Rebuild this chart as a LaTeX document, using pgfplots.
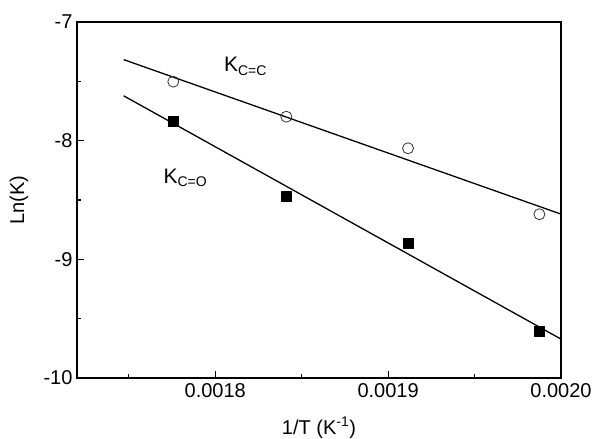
\documentclass[border=0pt]{standalone}
\usepackage{pgfplots}
\pgfplotsset{compat=1.18}
\usepackage{fontspec}
\setmainfont{Liberation Sans}

\begin{document}
\begin{tikzpicture}
\begin{axis}[
  scale only axis, width=484pt, height=356pt,
  xmin=0.00172, xmax=0.0020, ymin=-10, ymax=-7,
  scaled x ticks=false,
  axis line style={line width=1.6pt},
  xtick={0.0018,0.0019,0.0020}, xticklabels={0.0018,0.0019,0.0020},
  minor xtick={0.00175,0.00185,0.00195},
  ytick={-10,-9,-8,-7}, yticklabels={-10,-9,-8,-7},
  minor ytick={-9.5,-8.5,-7.5},
  tick align=inside, xtick pos=bottom, ytick pos=left,
  major tick length=7pt, minor tick length=4pt,
  tick style={line width=1.2pt, black},
  tick label style={font=\fontsize{20}{24}\selectfont},
  label style={font=\fontsize{20}{24}\selectfont},
  xticklabel style={yshift=-2pt},
  yticklabel style={xshift=-1pt},
  xlabel={1/T (K\textsuperscript{-1})},
  ylabel={Ln(K)},
  xlabel style={at={(axis description cs:0.5,-0.14)}, anchor=center},
  ylabel style={at={(axis description cs:-0.12,0.5)}, anchor=center},
  clip=false,
]
% K C=C data
\addplot[only marks, mark=o, mark size=5.5pt, mark options={line width=0.8pt, draw=black!80}] coordinates {
  (0.0017757,-7.503) (0.0018411,-7.798) (0.0019115,-8.064) (0.0019875,-8.620)};
% K C=O data
\addplot[only marks, mark=square*, mark size=5pt, mark options={fill=black, draw=black}] coordinates {
  (0.0017757,-7.832) (0.0018411,-8.464) (0.0019115,-8.865) (0.0019875,-9.604)};
% linear fits
\addplot[line width=1.3pt, black] coordinates {(0.001747,-7.317) (0.0020,-8.619)};
\addplot[line width=1.3pt, black] coordinates {(0.001747,-7.622) (0.0020,-9.672)};
\node[anchor=base west, inner sep=0pt, font=\fontsize{21}{24}\selectfont] at (axis cs:0.001805,-7.421) {K\textsubscript{\fontsize{14}{16}\selectfont C=C}};
\node[anchor=base west, inner sep=0pt, font=\fontsize{21}{24}\selectfont] at (axis cs:0.001770,-8.357) {K\textsubscript{\fontsize{14}{16}\selectfont C=O}};
\end{axis}
\pgfresetboundingbox
\path[use as bounding box] ([xshift=-77pt,yshift=-61pt]current axis.south west) rectangle ([xshift=31pt,yshift=22pt]current axis.north east);
\end{tikzpicture}
\end{document}
